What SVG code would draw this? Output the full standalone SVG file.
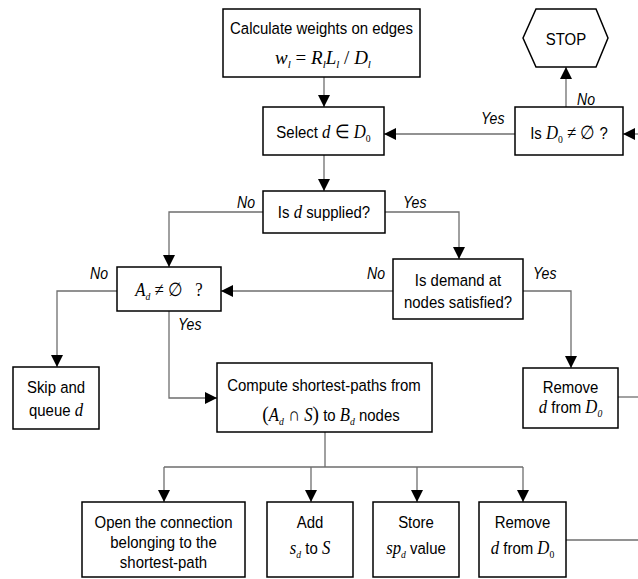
<svg xmlns="http://www.w3.org/2000/svg" width="638" height="579" viewBox="0 0 638 579">
<style>
.box{fill:#fff;stroke:#000;stroke-width:1.5}
.t{font-family:"Liberation Sans",Arial,sans-serif;font-size:17px;fill:#000;text-anchor:middle;transform-box:fill-box;transform-origin:center;transform:scaleX(.88)}
.f{font-family:"Liberation Serif","Times New Roman",serif;font-size:19px;fill:#000;text-anchor:middle}
.lbl{font-family:"Liberation Sans",Arial,sans-serif;font-size:16px;font-style:italic;fill:#000;transform-box:fill-box;transform-origin:left;transform:scaleX(.88)}
.mi{font-family:"Liberation Serif","Times New Roman",serif;font-size:19px;font-style:italic}
.mu{font-family:"Liberation Serif","Times New Roman",serif;font-size:19px;font-style:normal}
.sb{font-family:"Liberation Serif","Times New Roman",serif;font-size:11px;font-style:normal}
.sbi{font-family:"Liberation Serif","Times New Roman",serif;font-size:11px;font-style:italic}
.big{font-family:"Liberation Serif","Times New Roman",serif;font-size:22px;font-style:normal}
.c{fill:none;stroke:#6e6e6e;stroke-width:1.3}
.a{marker-end:url(#arr)}
</style>
<defs>
<marker id="arr" markerUnits="userSpaceOnUse" markerWidth="13" markerHeight="13" refX="12" refY="6" orient="auto">
<path d="M0,0 L12,6 L0,12 z" fill="#000"/>
</marker>
</defs>
<rect width="638" height="579" fill="#fff"/>

<g id="connectors">
<path class="c a" d="M324,77 V107"/>
<path class="c a" d="M515,134 H384"/>
<path class="c a" d="M638,134 H623"/>
<path class="c a" d="M566,107 V67"/>
<path class="c a" d="M324,155 V191"/>
<path class="c a" d="M263,212 H169 V267"/>
<path class="c a" d="M385,212 H459 V259"/>
<path class="c a" d="M393,291 H221"/>
<path class="c a" d="M523,291 H571 V368"/>
<path class="c a" d="M117,291 H57 V367"/>
<path class="c a" d="M169,311 V398 H217"/>
<path class="c" d="M325,432 V467 M164,467 H523"/>
<path class="c a" d="M164,467 V502"/>
<path class="c a" d="M311,467 V502"/>
<path class="c a" d="M417,467 V502"/>
<path class="c a" d="M523,467 V502"/>
<path class="c" d="M618,397 H638"/>
<path class="c" d="M566,540 H638"/>
<text class="lbl" x="481" y="124">Yes</text>
<text class="lbl" x="577" y="105">No</text>
<text class="lbl" x="237" y="208">No</text>
<text class="lbl" x="403" y="208">Yes</text>
<text class="lbl" x="367" y="279">No</text>
<text class="lbl" x="533" y="279">Yes</text>
<text class="lbl" x="90" y="279">No</text>
<text class="lbl" x="178" y="330">Yes</text>
</g>

<g id="n-calc">
<rect class="box" x="223" y="9" width="197" height="68"/>
<text class="t" x="321.5" y="34">Calculate weights on edges</text>
<text class="f" x="323" y="64"><tspan class="mi">w</tspan><tspan class="sbi" dy="4">l</tspan><tspan class="mu" dy="-4"> = </tspan><tspan class="mi">R</tspan><tspan class="sbi" dy="4">l</tspan><tspan class="mi" dy="-4">L</tspan><tspan class="sbi" dy="4">l</tspan><tspan class="mu" dy="-4"> / </tspan><tspan class="mi">D</tspan><tspan class="sbi" dy="4">l</tspan></text>
</g>

<g id="n-stop">
<polygon class="box" points="523,38 536,9 596,9 608,38 596,67 536,67"/>
<text class="t" x="566" y="45">STOP</text>
</g>

<g id="n-select">
<rect class="box" x="263" y="107" width="121" height="48"/>
<text class="t" x="323.5" y="138">Select <tspan class="mi">d</tspan><tspan class="mu"> ∈ </tspan><tspan class="mi">D</tspan><tspan class="sb" dy="4">0</tspan></text>
</g>

<g id="n-isd0">
<rect class="box" x="515" y="107" width="108" height="48"/>
<text class="t" x="569" y="139">Is <tspan class="mi">D</tspan><tspan class="sb" dy="4">0</tspan><tspan class="mu" dy="-4"> ≠ ∅ </tspan>?</text>
</g>

<g id="n-issup">
<rect class="box" x="263" y="191" width="122" height="42"/>
<text class="t" x="324" y="218">Is <tspan class="mi">d</tspan> supplied?</text>
</g>

<g id="n-ad">
<rect class="box" x="117" y="267" width="104" height="44"/>
<text class="t" x="169" y="296" xml:space="preserve"><tspan class="mi">A</tspan><tspan class="sbi" dy="4">d</tspan><tspan class="mu" dy="-4"> ≠ ∅   ?</tspan></text>
</g>

<g id="n-demand">
<rect class="box" x="393" y="259" width="130" height="60"/>
<text class="t" x="458" y="286">Is demand at</text>
<text class="t" x="458" y="308">nodes satisfied?</text>
</g>

<g id="n-skip">
<rect class="box" x="13" y="367" width="86" height="62"/>
<text class="t" x="56" y="393">Skip and</text>
<text class="t" x="56" y="416">queue <tspan class="mi">d</tspan></text>
</g>

<g id="n-compute">
<rect class="box" x="217" y="363" width="215" height="69"/>
<text class="t" x="324" y="391">Compute shortest-paths  from</text>
<text class="t" x="331" y="421"><tspan class="big">(</tspan><tspan class="mi">A</tspan><tspan class="sbi" dy="4">d</tspan><tspan class="mu" dy="-4"> ∩ </tspan><tspan class="mi">S</tspan><tspan class="big">)</tspan> to <tspan class="mi">B</tspan><tspan class="sbi" dy="4">d</tspan><tspan dy="-4"> nodes</tspan></text>
</g>

<g id="n-remove1">
<rect class="box" x="523" y="368" width="95" height="60"/>
<text class="t" x="570.5" y="393">Remove</text>
<text class="t" x="570.5" y="413"><tspan class="mi">d</tspan> from <tspan class="mi">D</tspan><tspan class="sbi" dy="4">0</tspan></text>
</g>

<g id="n-open">
<rect class="box" x="82" y="502" width="163" height="75"/>
<text class="t" x="163.5" y="528">Open the connection</text>
<text class="t" x="163.5" y="548">belonging to the</text>
<text class="t" x="163.5" y="568">shortest-path</text>
</g>

<g id="n-add">
<rect class="box" x="267" y="502" width="86" height="75"/>
<text class="t" x="310" y="528">Add</text>
<text class="t" x="310" y="554"><tspan class="mi">s</tspan><tspan class="sbi" dy="4">d</tspan><tspan dy="-4"> to </tspan><tspan class="mi">S</tspan></text>
</g>

<g id="n-store">
<rect class="box" x="373" y="502" width="86" height="75"/>
<text class="t" x="416" y="528">Store</text>
<text class="t" x="416" y="554"><tspan class="mi">sp</tspan><tspan class="sbi" dy="4">d</tspan><tspan dy="-4"> value</tspan></text>
</g>

<g id="n-remove2">
<rect class="box" x="479" y="502" width="87" height="75"/>
<text class="t" x="522.5" y="528">Remove</text>
<text class="t" x="522.5" y="554"><tspan class="mi">d</tspan> from <tspan class="mi">D</tspan><tspan class="sb" dy="4">0</tspan></text>
</g>
</svg>
